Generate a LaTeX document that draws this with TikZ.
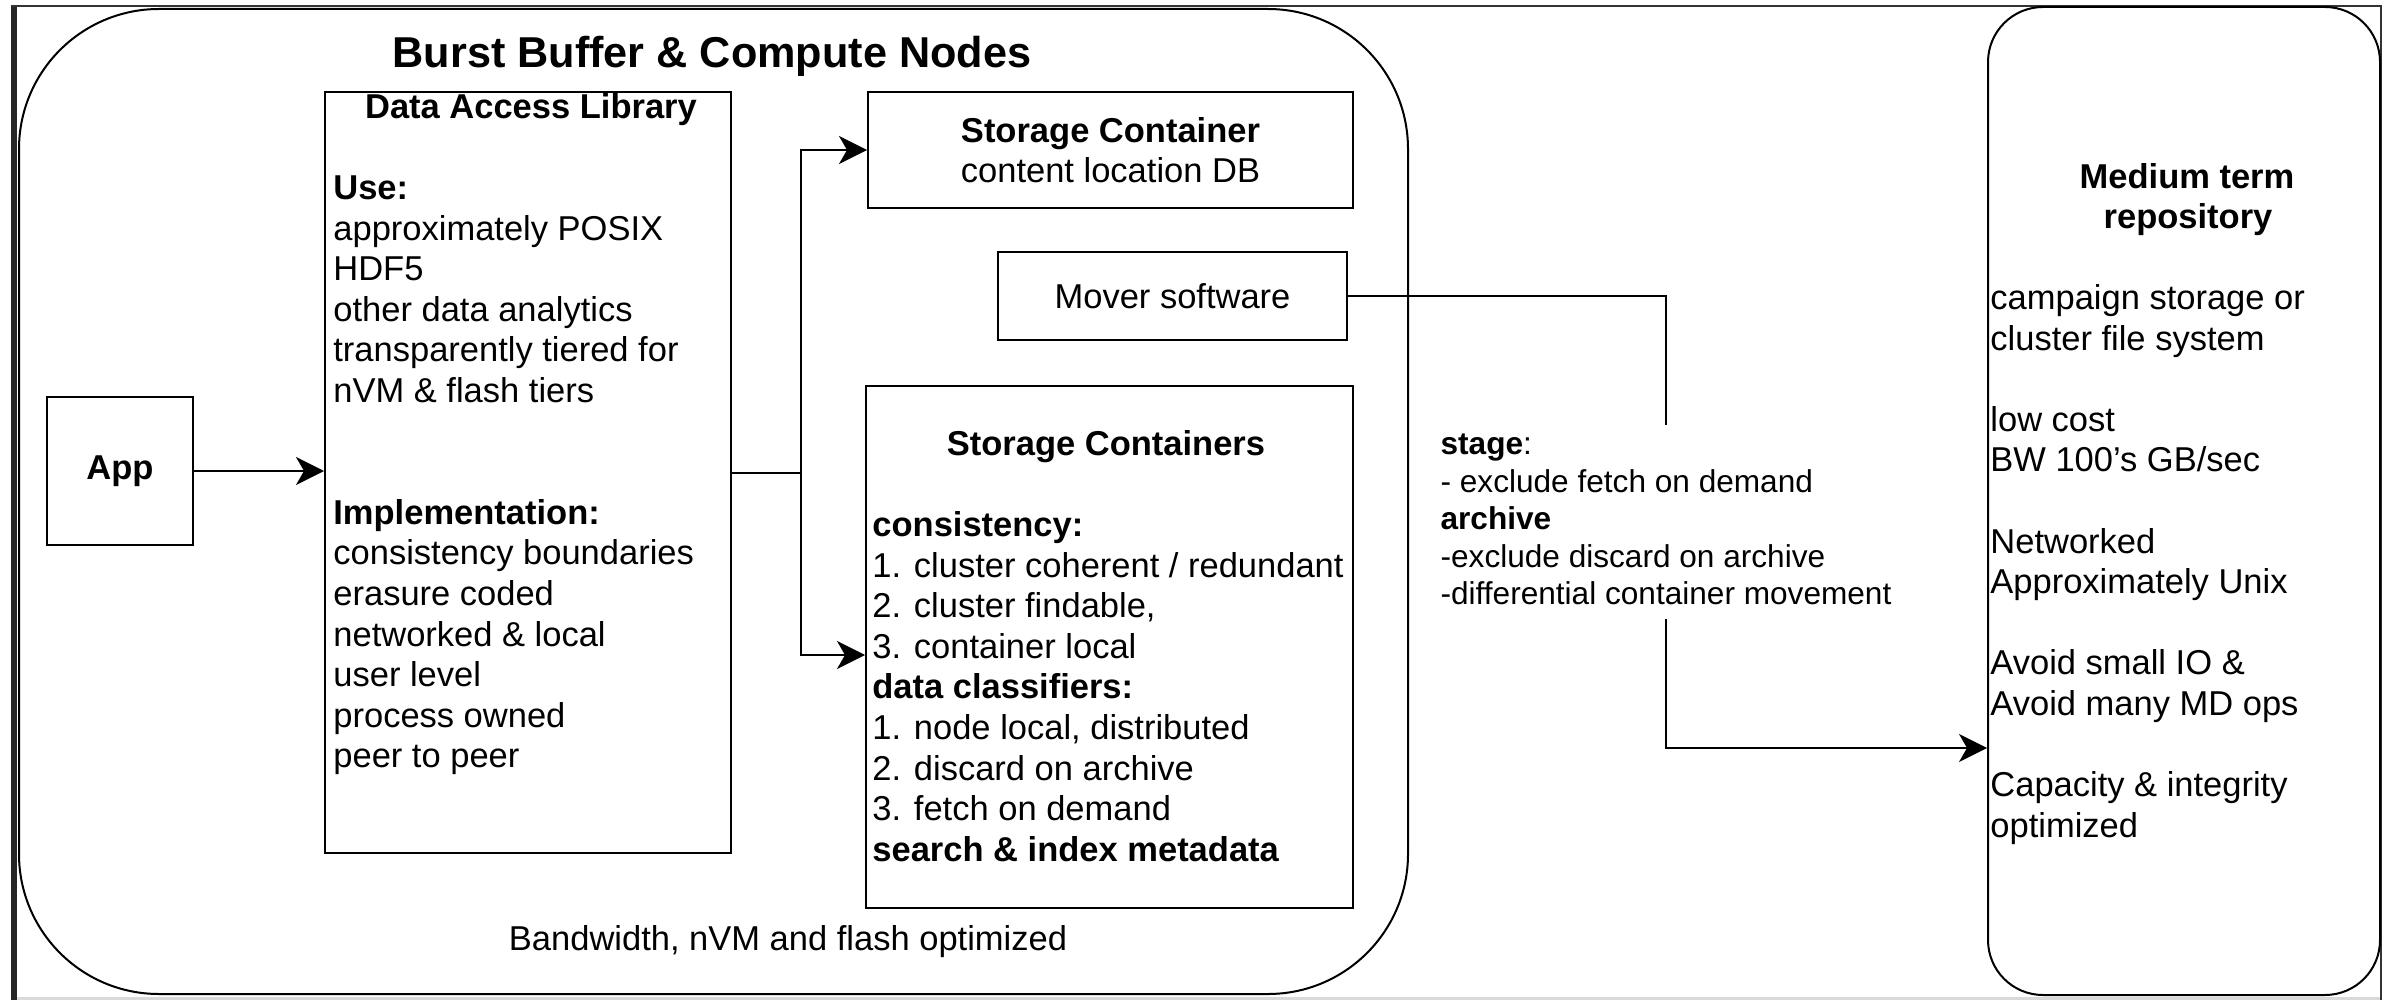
\documentclass[tikz,border=0pt]{standalone}
\usepackage{fontspec}
\setmainfont{Liberation Sans}
\usetikzlibrary{arrows.meta,calc}
\newcommand\bodyfs{\fontsize{17.25pt}{20.3pt}\selectfont}
\newcommand\labelfs{\fontsize{15.8pt}{18.75pt}\selectfont}
\newcommand\titlefs{\fontsize{21.6pt}{26pt}\selectfont\bfseries}
\begin{document}
\begin{tikzpicture}[x=0.5pt,y=-0.5pt,
  box/.style={draw=black, line width=1pt, inner sep=0pt, font=\bodyfs, align=center},
  txt/.style={inner sep=0pt, font=\bodyfs, align=left, anchor=north west},
  conn/.style={draw=black, line width=1pt},
  arr/.style={conn, -{Stealth[length=14pt,width=14pt,inset=4pt]}},
  lbl/.style={fill=white, inner xsep=1pt, inner ysep=1.5pt, font=\labelfs, align=left}]
\useasboundingbox (0,0) rectangle (2392,1000);
% screenshot frame
\fill[black!85] (11,5) rectangle (16.5,1000);
\draw[black!80, line width=1pt] (11,6) -- (2381,6);
\draw[black!80, line width=1pt] (2380.5,5) -- (2380.5,1000);
\draw[black!15, line width=1.5pt] (16.5,998.5) -- (2380,998.5);

% containers
\node[box, rounded corners=70pt, minimum width=694.5pt, minimum height=492.5pt] (bb) at (713.5,501.5) {};
\node[box, rounded corners=27.5pt, minimum width=196pt, minimum height=494pt] (med) at (2184,501) {};

\node[anchor=base, inner sep=0pt, font=\titlefs] (title) at (712,68) {Burst Buffer \& Compute Nodes};

% App
\node[box, minimum width=73pt, minimum height=74pt] (app) at (120,471) {\textbf{App}};

% Data Access Library
\node[box, minimum width=203pt, minimum height=380.5pt] (dal) at (528,472.5) {};
\node[anchor=base, inner sep=0pt, font=\bodyfs] (dalhead) at (531,119) {\textbf{Data Access Library}};
\node[txt] (dalbody) at (333,170.6) {\strut\textbf{Use:}\\approximately POSIX\\HDF5\\other data analytics\\transparently tiered for\\nVM \& flash tiers\\\mbox{}\\\mbox{}\\\textbf{Implementation:}\\consistency boundaries\\erasure coded\\networked \& local\\user level\\process owned\\peer to peer};

% Storage Container
\node[box, minimum width=242.5pt, minimum height=58pt] (sc) at (1110.5,150) {\textbf{Storage Container}\\content location DB};

% Mover
\node[box, minimum width=174.5pt, minimum height=44pt] (mover) at (1172.5,296) {Mover software};

% Storage Containers
\node[box, minimum width=243.5pt, minimum height=261pt] (scs) at (1109.5,647) {};
\node[anchor=base, inner sep=0pt, font=\bodyfs] (scshead) at (1106,455) {\textbf{Storage Containers}};
\node[txt] (scsbody) at (872,507.6) {\strut\textbf{consistency:}\\1. cluster coherent / redundant\\2. cluster findable,\\3. container local\\\textbf{data classifiers:}\\1. node local, distributed\\2. discard on archive\\3. fetch on demand\\\textbf{search \& index metadata}};

\node[anchor=base, inner sep=0pt, font=\bodyfs] (bw) at (788,950) {Bandwidth, nVM and flash optimized};

% Medium term repository
\node[anchor=base, inner sep=0pt, font=\bodyfs, align=center] (medhead1) at (2187,189) {\textbf{Medium term}};
\node[anchor=base, inner sep=0pt, font=\bodyfs, align=center] (medhead2) at (2188,229) {\textbf{repository}};
\node[txt] (medbody) at (1990,280.6) {\strut campaign storage or\\cluster file system\\\mbox{}\\low cost\\BW 100's GB/sec\\\mbox{}\\Networked\\Approximately Unix\\\mbox{}\\Avoid small IO \&\\Avoid many MD ops\\\mbox{}\\Capacity \& integrity\\optimized};

% connectors
\draw[arr] (app.east) -- (app.east -| dal.west);
\coordinate (split) at ($(dal.east)+(69,0)$);
\coordinate (scsin) at ($(scs.west)+(0,8)$);
\draw[conn] (dal.east) -- (split);
\draw[arr] (split) |- (sc.west);
\draw[arr] (split) |- (scsin);

\coordinate (medin) at (med.west |- 0,748);
\coordinate (mv1) at (mover.east -| 1666,0);
\coordinate (mv2) at (medin -| 1666,0);
\draw[arr] (mover.east) -- (mv1) -- node[lbl] (movlbl) {\strut\textbf{stage}:\\- exclude fetch on demand\\\textbf{archive}\\-exclude discard on archive\\-differential container movement\strut} (mv2) -- (medin);
\end{tikzpicture}
\end{document}
